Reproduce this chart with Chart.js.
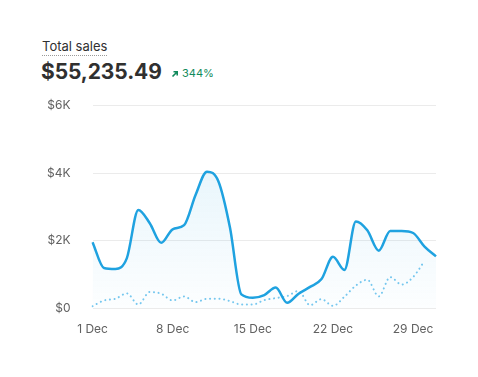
<!DOCTYPE html>
<html>
<head>
<meta charset="utf-8">
<script src="https://cdn.jsdelivr.net/npm/chart.js@4.4.1/dist/chart.umd.min.js"></script>
<style>
  html, body { margin: 0; padding: 0; background: #ffffff; }
  body { width: 478px; height: 377px; position: relative; overflow: hidden; font-family: Inter, "Noto Sans", sans-serif; }
  #title { position: absolute; left: 42px; top: 38px; font-size: 13px; color: #303030; line-height: 16px;
           border-bottom: 1.5px dotted #9a9a9a; padding-bottom: 1px; }
  #total { position: absolute; left: 41px; top: 59px; font-size: 21px; font-weight: 700; color: #303030; line-height: 26px; letter-spacing: -0.1px; }
  #change { position: absolute; left: 171px; top: 66px; font-size: 11px; color: #118a5c; line-height: 14px; }
  #change svg { vertical-align: -1px; margin-right: 3px; }
  #wrap { position: absolute; left: 25px; top: 76px; width: 425px; height: 275px; }
</style>
</head>
<body>
<div id="title">Total sales</div>
<div id="total">$55,235.49</div>
<div id="change"><svg width="8" height="8" viewBox="0 0 8 8"><path d="M1.5 6.5 L6 2 M2.5 1.8 H6.2 V5.5" stroke="#118a5c" stroke-width="1.6" fill="none"/></svg>344%</div>
<div id="wrap"><canvas id="c"></canvas></div>
<script>
const days = ["1 Dec","2 Dec","3 Dec","4 Dec","5 Dec","6 Dec","7 Dec","8 Dec","9 Dec","10 Dec",
  "11 Dec","12 Dec","13 Dec","14 Dec","15 Dec","16 Dec","17 Dec","18 Dec","19 Dec","20 Dec",
  "21 Dec","22 Dec","23 Dec","24 Dec","25 Dec","26 Dec","27 Dec","28 Dec","29 Dec","30 Dec","31 Dec"];
const currentSales = [1960,1200,1170,1490,2910,2520,1940,2340,2460,3350,
  4040,3750,2400,420,320,400,620,170,440,640,
  870,1530,1140,2570,2310,1710,2290,2290,2230,1830,1540];
const previousSales = [70,240,290,450,120,490,440,240,360,190,
  290,290,220,120,120,250,310,370,520,100,
  280,80,350,680,850,360,930,710,930,1410];
const yTicks = [0,2000,4000,6000];

const ctx = document.getElementById('c').getContext('2d');
const chart = new Chart(ctx, {
  type: 'line',
  data: {
    labels: days,
    datasets: [
      {
        label: 'Total sales',
        data: currentSales,
        borderColor: '#1fa2e0',
        borderWidth: 2.5,
        pointRadius: 0,
        cubicInterpolationMode: 'monotone',
        fill: 'origin',
        backgroundColor: function(context) {
          const c = context.chart;
          const a = c.chartArea;
          if (!a) return 'rgba(31,162,224,0.06)';
          const g = c.ctx.createLinearGradient(0, a.top + 60, 0, a.bottom);
          g.addColorStop(0, 'rgba(31,162,224,0.10)');
          g.addColorStop(1, 'rgba(31,162,224,0.01)');
          return g;
        },
        order: 1
      },
      {
        label: 'Previous period',
        data: previousSales,
        borderColor: '#78c8ef',
        borderWidth: 2,
        borderDash: [0.1, 4.6],
        borderCapStyle: 'round',
        pointRadius: 0,
        cubicInterpolationMode: 'monotone',
        fill: false,
        order: 2
      }
    ]
  },
  options: {
    responsive: true,
    maintainAspectRatio: false,
    animation: false,
    layout: { padding: { left: 0, right: 0, top: 4, bottom: 0 } },
    plugins: { legend: { display: false }, tooltip: { enabled: false } },
    scales: {
      x: {
        grid: { display: false, drawTicks: false },
        border: { display: false },
        ticks: {
          autoSkip: false,
          maxRotation: 0,
          color: '#616161',
          font: { family: 'Inter', size: 12 },
          padding: 14,
          callback: function(v, i) { return i % 7 === 0 ? days[i] : ''; }
        }
      },
      y: {
        min: 0,
        max: 6000,
        afterBuildTicks: function(axis) { axis.ticks = yTicks.map(v => ({ value: v })); },
        grid: { color: '#ebebeb', lineWidth: 1, drawTicks: false },
        border: { display: false },
        ticks: {
          color: '#616161',
          font: { family: 'Inter', size: 12 },
          padding: 22,
          callback: function(v) { return v === 0 ? '$0' : '$' + (v / 1000) + 'K'; }
        }
      }
    }
  }
});
</script>
</body>
</html>
